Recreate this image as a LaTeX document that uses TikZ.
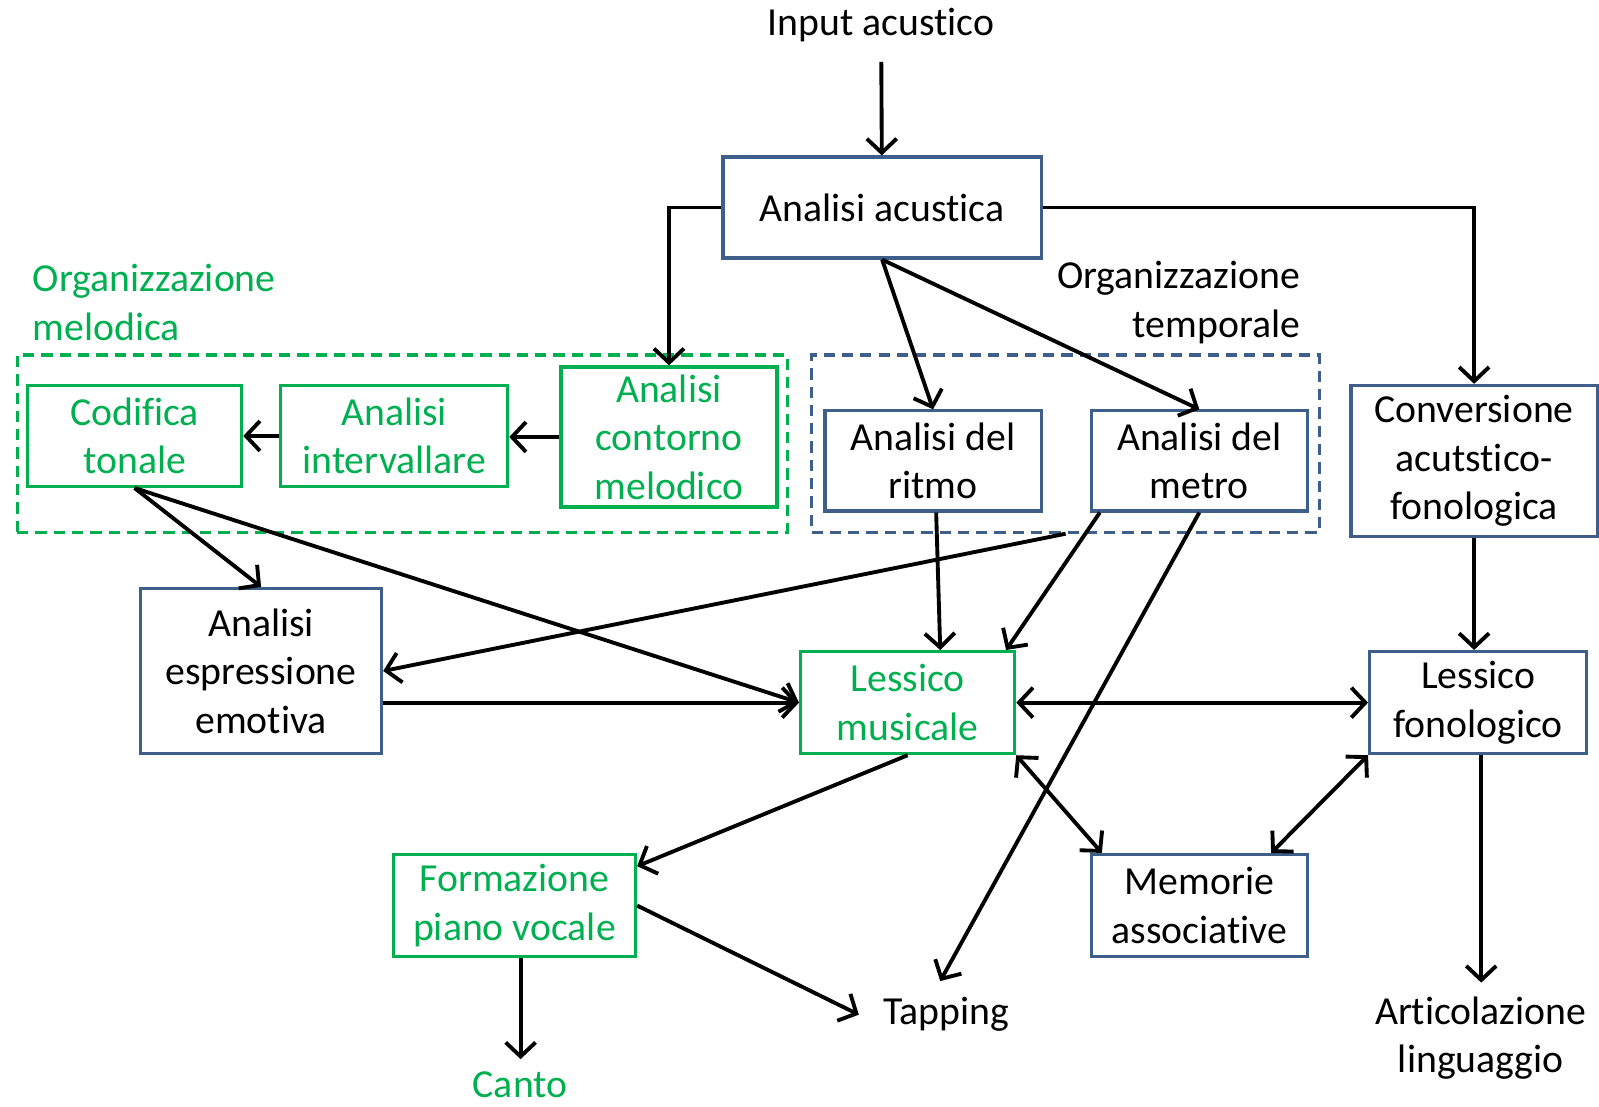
\documentclass[tikz,border=0pt]{standalone}
\usepackage{fontspec}
\setmainfont[Ligatures=NoCommon]{Carlito}
\usetikzlibrary{arrows.meta,calc}
\definecolor{boxblue}{HTML}{3E5F8A}
\definecolor{boxgreen}{HTML}{00B050}

\begin{document}
\begin{tikzpicture}[x=0.0102cm,y=-0.0102cm,
  font=\fontsize{11.3}{13.8}\selectfont,
  bluebox/.style={draw=boxblue,line width=0.9pt,align=center,inner sep=0pt},
  greenbox/.style={draw=boxgreen,line width=0.9pt,align=center,inner sep=0pt,text=boxgreen},
  frame/.style={dashed,line width=0.9pt,dash pattern=on 3.2pt off 2pt},
  link/.style={line width=1.1pt,-{Straight Barb[length=4pt,width=8.5pt]}},
  twoway/.style={line width=1.1pt,{Straight Barb[length=4pt,width=8.5pt]}-{Straight Barb[length=4pt,width=8.5pt]}}]
  \useasboundingbox (0,0) rectangle (1568,1085);

  % cornici tratteggiate
  \node[frame,draw=boxgreen,minimum width=7.70cm,minimum height=1.77cm,inner sep=0pt] (mel) at (394.5,435) {};
  \node[frame,draw=boxblue,minimum width=5.08cm,minimum height=1.77cm,inner sep=0pt] (tem) at (1045,435) {};
  \node[text=boxgreen,align=left,anchor=west] (orgmel) at (20,296.5) {Organizzazione\\melodica};
  \node[align=right,anchor=east] (orgtem) at (1287,296.5) {Organizzazione\\temporale};

  \node (inp) at (864,25) {Input acustico};
  \node[bluebox,minimum width=3.18cm,minimum height=1.01cm] (acu) at (865,203.5) {Analisi acustica};

  \node[greenbox,minimum width=2.14cm,minimum height=1.01cm] (cod) at (132,427.5) {Codifica\\tonale};
  \node[greenbox,minimum width=2.27cm,minimum height=1.01cm] (int) at (386.5,427.5) {Analisi\\intervallare};
  \node[greenbox,minimum width=2.16cm,minimum height=1.40cm] (con) at (656,428.5) {Analisi\\contorno\\melodico};

  \node[bluebox,minimum width=2.16cm,minimum height=1.00cm] (rit) at (915,452) {Analisi del\\ritmo};
  \node[bluebox,minimum width=2.16cm,minimum height=1.00cm] (met) at (1176,452) {Analisi del\\metro};
  \node[bluebox,minimum width=2.46cm,minimum height=1.51cm] (conv) at (1445.5,452) {Conversione\\acutstico-\\fonologica};

  \node[bluebox,minimum width=2.41cm,minimum height=1.65cm] (emo) at (256,658) {Analisi\\espressione\\emotiva};
  \node[greenbox,minimum width=2.14cm,minimum height=1.02cm] (lmu) at (890,689) {Lessico\\musicale};
  \node[bluebox,minimum width=2.17cm,minimum height=1.02cm] (lfo) at (1449.5,689) {Lessico\\fonologico};

  \node[greenbox,minimum width=2.42cm,minimum height=1.02cm] (for) at (504.5,888) {Formazione\\piano vocale};
  \node[bluebox,minimum width=2.16cm,minimum height=1.02cm] (mem) at (1176,888) {Memorie\\associative};

  \node (tap) at (928,995) {Tapping};
  \node[text=boxgreen] (can) at (510,1064) {Canto};
  \node[align=center] (art) at (1452,1018) {Articolazione\\linguaggio};

  % connessioni
  \draw[link,shorten <=2pt] (inp) -- (acu);
  \draw[link] (acu.west) -| (con.north);
  \draw[link] (acu.east) -| (conv.north);
  \draw[link] (acu.south) -- (rit.north);
  \draw[link] (acu.south) -- (met.north);
  \draw[link] (con.west) -- (int.east |- con.west);
  \draw[link] (int.west) -- (cod.east);
  \draw[link] (cod.south) -- (emo.north);
  \draw[link] (cod.south) -- (lmu.west);
  \draw[link] (emo.east |- lmu.west) -- (lmu.west);
  \draw[link] (tem.south) -- (emo.east);
  \draw[link] ($(met.south west)+(10,0)$) -- ($(lmu.north east)+(-10,0)$);
  \draw[link] ($(rit.south)+(3,0)$) -- ($(rit.south |- lmu.north)+(7,0)$);
  \draw[link] (met.south) -- ($(tap.north)+(-6,-4)$);
  \draw[link] (conv.south) -- (conv.south |- lfo.north);
  \draw[twoway] (lmu.east) -- (lfo.west);
  \draw[twoway] (lmu.south east) -- ($(mem.north west)+(12,0)$);
  \draw[twoway] (lfo.south west) -- ($(mem.north east)+(-37,0)$);
  \draw[link] (lmu.south) -- ($(for.north east)+(0,13)$);
  \draw[link] (for.east) -- ($(tap.west)+(-12,0)$);
  \draw[link] ($(for.south)+(6,0)$) -- ($(for.south)+(6,99)$);
  \draw[link] ($(lfo.south)+(3,0)$) -- ($(lfo.south)+(3,223)$);
\end{tikzpicture}
\end{document}
